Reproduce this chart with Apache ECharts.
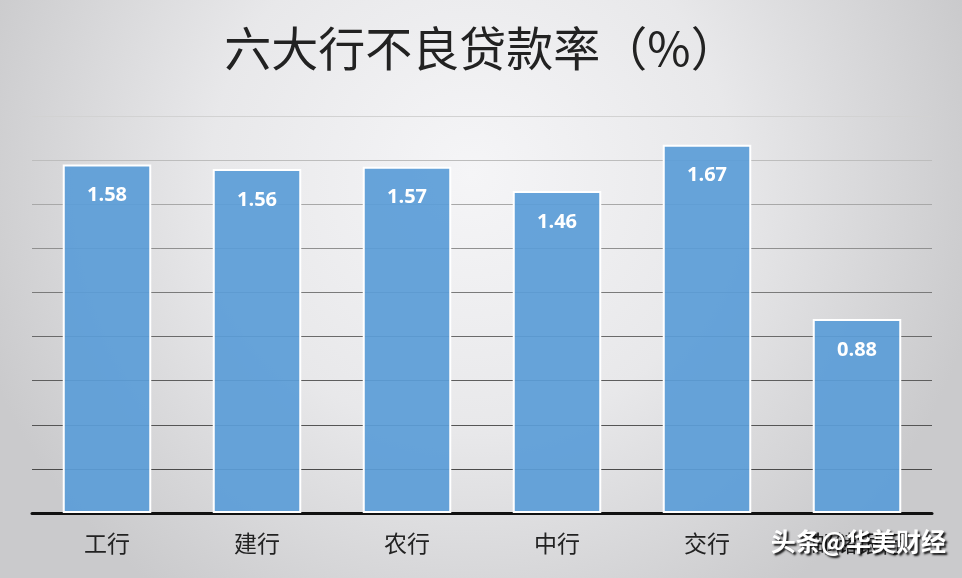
<!DOCTYPE html>
<html><head><meta charset="utf-8">
<script src="https://cdn.jsdelivr.net/npm/echarts@6/dist/echarts.min.js"></script>
<style>html,body{margin:0;padding:0;}#c{width:962px;height:578px;}</style>
</head><body><div id="c"></div>
<script>
const titleText = '六大行不良贷款率（%）';
const categories = ['工行', '建行', '农行', '中行', '交行', '邮储银行'];
const values = [1.58, 1.56, 1.57, 1.46, 1.67, 0.88];
const watermark = '头条@华美财经';

const chart = echarts.init(document.getElementById('c'));
chart.setOption({
  backgroundColor: {
    type: 'radial', x: 0.49, y: 0.3, r: 0.9,
    colorStops: [
      {offset: 0, color: '#f5f5f7'},
      {offset: 0.5, color: '#e8e8ea'},
      {offset: 1, color: '#cacacc'}
    ]
  },
  title: {
    text: titleText, left: 'center', top: 20,
    textStyle: {fontFamily: 'Noto Sans CJK SC', fontSize: 47, fontWeight: 'normal', color: '#222'}
  },
  grid: {left: 32, right: 30, top: 116, bottom: 65},
  xAxis: {
    type: 'category', data: categories,
    axisLine: {lineStyle: {color: '#111', width: 3}},
    axisTick: {show: false},
    axisLabel: {fontFamily: 'Noto Sans CJK SC', fontSize: 23, color: '#222', margin: 19}
  },
  yAxis: {
    type: 'value', min: 0, max: 1.8, interval: 0.2,
    axisLabel: {show: false}, axisLine: {show: false}, axisTick: {show: false},
    splitLine: {lineStyle: {width: 1.2, color: ['#444', '#4a4a4a', '#555', '#5e5e5e', '#6a6a6a', '#7a7a7a', '#909090', '#a8a8a8', '#bdbdbd', '#d2d2d2']}}
  },
  series: [{
    type: 'bar', data: values, barWidth: '59%',
    itemStyle: {color: 'rgba(91,157,215,0.93)', borderColor: '#ffffff', borderWidth: 2},
    label: {
      show: true, position: 'insideTop', distance: 21,
      fontFamily: 'Open Sans', fontWeight: 'bold', fontSize: 20, color: '#ffffff',
      formatter: p => p.value.toFixed(2)
    }
  }],
  graphic: [{
    type: 'text', right: 16, top: 529, z: 100,
    style: {
      text: watermark, fontFamily: 'Noto Sans CJK SC', fontSize: 25, fontWeight: 'bold', fill: '#ffffff',
      textShadowColor: 'rgba(0,0,0,0.9)', textShadowBlur: 2, textShadowOffsetX: 2, textShadowOffsetY: 2
    }
  }]
});
</script></body></html>
